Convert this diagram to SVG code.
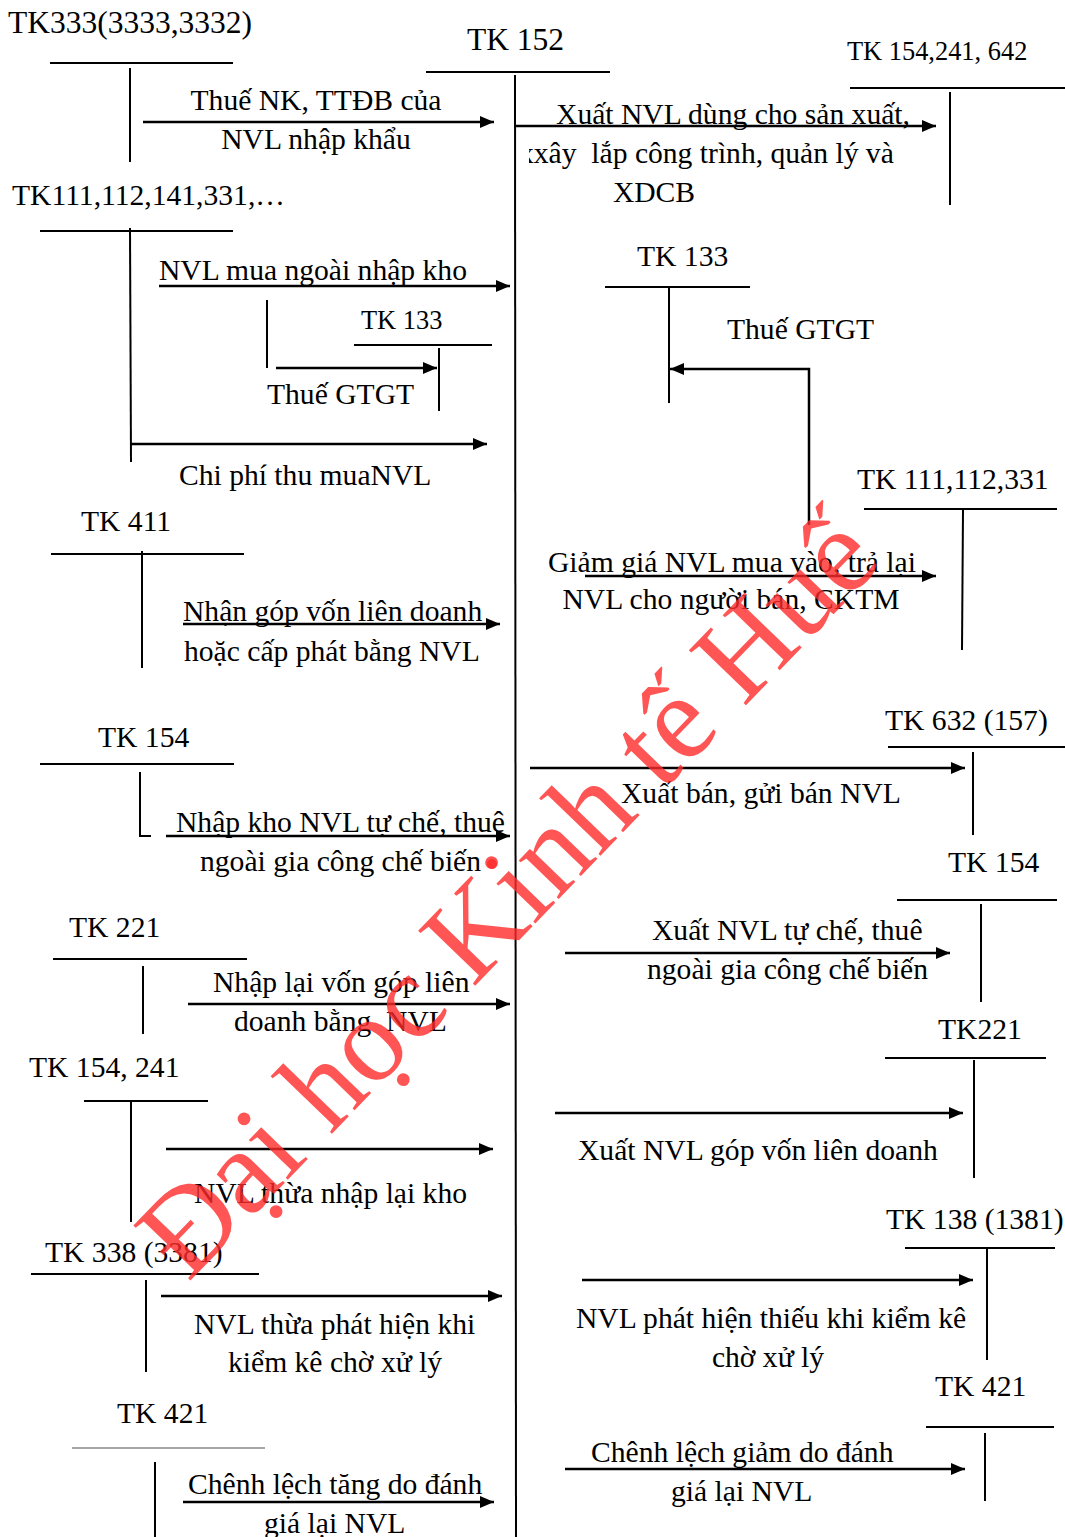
<svg xmlns="http://www.w3.org/2000/svg" width="1065" height="1537" viewBox="0 0 1065 1537">
<style>
text{font-family:"Liberation Serif","Times New Roman",serif;font-size:29.6px;fill:#000;white-space:pre}
.s{font-size:26.4px}
.l{font-size:31.5px}
.c{text-anchor:middle}
.ln{stroke:#000;stroke-width:2;fill:none}
.ar{stroke:#000;stroke-width:2.5;fill:none;marker-end:url(#ah)}
.wm{font-size:121px;fill:#ff2a2a;fill-opacity:0.8}
</style>
<defs>
<marker id="ah" viewBox="0 0 14 12" refX="14" refY="6" markerWidth="14" markerHeight="12" orient="auto" markerUnits="userSpaceOnUse"><path d="M0,0 L14,6 L0,12 z" fill="#000"/></marker>
<clipPath id="clipx"><rect x="529" y="130" width="400" height="50"/></clipPath>
</defs>
<rect width="1065" height="1537" fill="#fff"/>

<g id="tk152">
<text class="l" x="467" y="50">TK 152</text>
<line class="ln" x1="426" y1="72" x2="610" y2="72"/>
<line class="ln" x1="515" y1="75" x2="516" y2="1537"/>
</g>

<g id="tk333">
<text class="l" x="8" y="33">TK333(3333,3332)</text>
<line class="ln" x1="50" y1="63" x2="233" y2="63"/>
<line class="ln" x1="130" y1="68" x2="130" y2="162"/>
</g>

<g id="tk154-241-642">
<text class="s" x="847" y="60">TK 154,241, 642</text>
<line class="ln" x1="850" y1="88" x2="1065" y2="88"/>
<line class="ln" x1="950" y1="92" x2="950" y2="205"/>
</g>

<g id="tk111-left">
<text x="12" y="205">TK111,112,141,331,…</text>
<line class="ln" x1="40" y1="231" x2="233" y2="231"/>
<line class="ln" x1="130" y1="228" x2="131" y2="462"/>
<line class="ln" x1="267" y1="300" x2="267" y2="368"/>
</g>

<g id="tk133-small">
<text class="s" x="361" y="329">TK 133</text>
<line class="ln" x1="354" y1="345" x2="492" y2="345"/>
<line class="ln" x1="439" y1="348" x2="439" y2="411"/>
</g>

<g id="tk133-right">
<text x="637" y="266">TK 133</text>
<line class="ln" x1="605" y1="287" x2="750" y2="287"/>
<line class="ln" x1="669" y1="288" x2="669" y2="403"/>
</g>

<g id="tk111-right">
<text x="857" y="489">TK 111,112,331</text>
<line class="ln" x1="864" y1="509" x2="1057" y2="509"/>
<line class="ln" x1="963" y1="510" x2="962" y2="650"/>
</g>

<g id="tk411">
<text x="81" y="531">TK 411</text>
<line class="ln" x1="51" y1="554" x2="244" y2="554"/>
<line class="ln" x1="142" y1="551" x2="142" y2="668"/>
</g>

<g id="tk632">
<text x="885" y="730">TK 632 (157)</text>
<line class="ln" x1="888" y1="747" x2="1065" y2="747"/>
<line class="ln" x1="973" y1="752" x2="973" y2="835"/>
</g>

<g id="tk154-left">
<text x="98" y="747">TK 154</text>
<line class="ln" x1="40" y1="764" x2="234" y2="764"/>
<polyline class="ln" points="140,772 140,836 151,836"/>
</g>

<g id="tk154-right">
<text x="948" y="872">TK 154</text>
<line class="ln" x1="897" y1="900" x2="1057" y2="900"/>
<line class="ln" x1="981" y1="904" x2="981" y2="1002"/>
</g>

<g id="tk221-left">
<text x="69" y="937">TK 221</text>
<line class="ln" x1="53" y1="959" x2="247" y2="959"/>
<line class="ln" x1="143" y1="966" x2="143" y2="1034"/>
</g>

<g id="tk221-right">
<text x="938" y="1039">TK221</text>
<line class="ln" x1="885" y1="1058" x2="1046" y2="1058"/>
<line class="ln" x1="974" y1="1060" x2="974" y2="1178"/>
</g>

<g id="tk154-241">
<text x="29" y="1077">TK 154, 241</text>
<line class="ln" x1="84" y1="1101" x2="208" y2="1101"/>
<line class="ln" x1="131" y1="1101" x2="131" y2="1222"/>
</g>

<g id="tk138">
<text x="886" y="1229">TK 138 (1381)</text>
<line class="ln" x1="905" y1="1248" x2="1055" y2="1248"/>
<line class="ln" x1="987" y1="1249" x2="987" y2="1360"/>
</g>

<g id="tk338">
<text x="45" y="1262">TK 338 (3381)</text>
<line class="ln" x1="31" y1="1274" x2="259" y2="1274"/>
<line class="ln" x1="146" y1="1280" x2="146" y2="1372"/>
</g>

<g id="tk421-right">
<text x="935" y="1396">TK 421</text>
<line class="ln" x1="926" y1="1427" x2="1054" y2="1427"/>
<line class="ln" x1="985" y1="1433" x2="985" y2="1501"/>
</g>

<g id="tk421-left">
<text x="117" y="1423">TK 421</text>
<line x1="72" y1="1448" x2="265" y2="1448" stroke="#888" stroke-width="1.5"/>
<line class="ln" x1="155" y1="1462" x2="155" y2="1537"/>
</g>

<g id="connectors">
<line class="ar" x1="143" y1="122" x2="494" y2="122"/>
<line class="ar" x1="516" y1="126" x2="936" y2="126"/>
<line class="ar" x1="159" y1="286" x2="510" y2="286"/>
<line class="ar" x1="276" y1="368" x2="437" y2="368"/>
<line class="ar" x1="131" y1="444" x2="487" y2="444"/>
<polyline class="ar" points="809,525 809,369 670,369"/>
<line class="ar" x1="585" y1="576" x2="936" y2="576"/>
<line class="ar" x1="183" y1="624" x2="500" y2="624"/>
<line class="ar" x1="530" y1="768" x2="965" y2="768"/>
<line class="ar" x1="166" y1="836" x2="510" y2="836"/>
<line class="ar" x1="565" y1="953" x2="950" y2="953"/>
<line class="ar" x1="188" y1="1004" x2="510" y2="1004"/>
<line class="ar" x1="555" y1="1113" x2="963" y2="1113"/>
<line class="ar" x1="166" y1="1149" x2="493" y2="1149"/>
<line class="ar" x1="582" y1="1280" x2="973" y2="1280"/>
<line class="ar" x1="161" y1="1296" x2="502" y2="1296"/>
<line class="ar" x1="565" y1="1469" x2="965" y2="1469"/>
<line class="ar" x1="183" y1="1502" x2="494" y2="1502"/>
</g>

<g id="labels">
<text class="c" x="316" y="110">Thuế NK, TTĐB của</text>
<text class="c" x="316" y="149">NVL nhập khẩu</text>
<text class="c" x="733" y="124">Xuất NVL dùng cho sản xuất,</text>
<text x="519" y="163" clip-path="url(#clipx)">xxây  lắp công trình, quản lý và</text>
<text class="c" x="654" y="202">XDCB</text>
<text x="159" y="280">NVL mua ngoài nhập kho</text>
<text x="267" y="404">Thuế GTGT</text>
<text x="179" y="485">Chi phí thu muaNVL</text>
<text x="727" y="339">Thuế GTGT</text>
<text x="548" y="572">Giảm giá NVL mua vào, trả lại</text>
<text class="c" x="731" y="609">NVL cho người bán, CKTM</text>
<text x="183" y="621">Nhận góp vốn liên doanh</text>
<text x="184" y="661">hoặc cấp phát bằng NVL</text>
<text x="621" y="803">Xuất bán, gửi bán NVL</text>
<text x="176" y="832">Nhập kho NVL tự chế, thuê</text>
<text x="200" y="871">ngoài gia công chế biến</text>
<text x="652" y="940">Xuất NVL tự chế, thuê</text>
<text x="647" y="979">ngoài gia công chế biến</text>
<text x="213" y="992">Nhập lại vốn góp liên</text>
<text x="234" y="1031">doanh bằng  NVL</text>
<text x="578" y="1160">Xuất NVL góp vốn liên doanh</text>
<text x="194" y="1203">NVL thừa nhập lại kho</text>
<text x="576" y="1328">NVL phát hiện thiếu khi kiểm kê</text>
<text class="c" x="768" y="1367">chờ xử lý</text>
<text x="194" y="1334">NVL thừa phát hiện khi</text>
<text x="228" y="1372">kiểm kê chờ xử lý</text>
<text x="591" y="1462">Chênh lệch giảm do đánh</text>
<text x="671" y="1501">giá lại NVL</text>
<text x="188" y="1494">Chênh lệch tăng do đánh</text>
<text x="264" y="1533">giá lại NVL</text>
</g>

<g id="watermark">
<circle cx="492" cy="864" r="5" fill="#ff2a2a" fill-opacity="0.8"/>
<text class="wm" transform="translate(188,1283) rotate(-46)">Đại học Kinh tế Huế</text>
</g>
</svg>
